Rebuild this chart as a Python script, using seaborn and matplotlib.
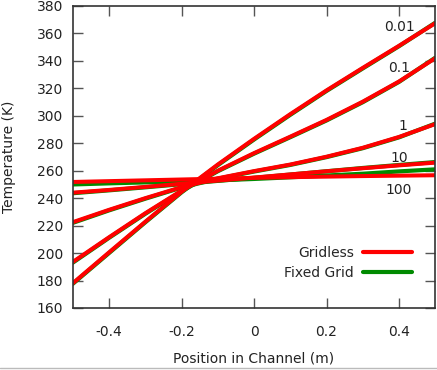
import numpy as np
import pandas as pd
import matplotlib
matplotlib.use("Agg")
import matplotlib.pyplot as plt
import seaborn as sns
from matplotlib.lines import Line2D

# position along the channel (m)
position = [-0.5, -0.4, -0.3, -0.2, -0.1, 0.0, 0.1, 0.2, 0.3, 0.4, 0.5]

# Gridless temperatures (K), one list per case
gridless_001 = [178.0, 200.5, 222.8, 244.6, 264.5, 283.2, 301.2, 318.5, 334.9, 351.0, 367.5]
gridless_01 = [193.5, 211.5, 229.0, 245.5, 260.0, 272.8, 284.8, 297.0, 310.3, 325.0, 342.0]
gridless_1 = [222.5, 231.5, 240.0, 248.0, 254.5, 259.7, 264.5, 270.2, 276.7, 284.6, 294.0]
gridless_10 = [244.0, 246.0, 248.2, 250.5, 252.8, 255.0, 257.3, 259.6, 261.8, 263.9, 265.9]
gridless_100 = [251.8, 252.4, 253.0, 253.6, 254.2, 254.8, 255.3, 255.7, 256.1, 256.4, 256.7]

# Fixed Grid temperatures (K)
fixed_001 = [177.6, 200.0, 222.4, 244.2, 264.0, 282.7, 300.7, 318.1, 334.5, 350.7, 367.8]
fixed_01 = [193.0, 211.1, 228.6, 245.1, 259.6, 272.4, 284.4, 296.6, 309.9, 324.7, 342.3]
fixed_1 = [222.0, 231.1, 239.6, 247.7, 254.2, 259.4, 264.2, 269.9, 276.4, 284.3, 294.3]
fixed_10 = [243.6, 245.7, 247.9, 250.2, 252.6, 254.8, 257.2, 259.6, 262.0, 264.2, 266.3]
fixed_100 = [250.0, 250.8, 251.5, 252.2, 253.0, 254.0, 255.2, 256.5, 257.8, 259.5, 261.0]

cases = ["0.01", "0.1", "1", "10", "100"]
gridless = [gridless_001, gridless_01, gridless_1, gridless_10, gridless_100]
fixed = [fixed_001, fixed_01, fixed_1, fixed_10, fixed_100]

# label spots for each case
label_x = [0.40, 0.40, 0.41, 0.40, 0.40]
label_y = [364.7, 334.8, 292.6, 269.3, 246.0]

rows = []
for c, g, f in zip(cases, gridless, fixed):
    for x, t in zip(position, f):
        rows.append({"Position": x, "Temperature": t, "Method": "Fixed Grid", "Case": c})
    for x, t in zip(position, g):
        rows.append({"Position": x, "Temperature": t, "Method": "Gridless", "Case": c})
df = pd.DataFrame(rows)

sns.set_style("ticks")
plt.rcParams['font.family'] = ['DejaVu Sans']
plt.rcParams['font.size'] = 10

colors = {"Gridless": "#ff0000", "Fixed Grid": "#008a00"}

fig = plt.figure(figsize=(4.37, 3.70), dpi=100)
ax = fig.add_axes([0.1665, 0.1676, 0.8295, 0.8162])

# green first, red drawn on top
for method, lw in [("Fixed Grid", 3.0), ("Gridless", 2.9)]:
    for c in cases:
        sub = df[(df["Method"] == method) & (df["Case"] == c)]
        sns.lineplot(data=sub, x="Position", y="Temperature", color=colors[method],
                     linewidth=lw, estimator=None, sort=False, ax=ax, legend=False)

for c, lx, ly in zip(cases, label_x, label_y):
    ax.text(lx, ly, c, ha="center", va="center", fontsize=10, color="#222222")

ax.set_xlim(-0.5, 0.5)
ax.set_ylim(160, 380)
ax.set_xticks([-0.4, -0.2, 0.0, 0.2, 0.4])
ax.set_xticklabels(["-0.4", "-0.2", "0", "0.2", "0.4"])
ax.set_yticks(np.arange(160, 381, 20))
ax.tick_params(direction="in", length=7, width=1, colors="#555555",
               labelcolor="#222222", top=True, right=True)
ax.tick_params(axis="x", pad=12)
ax.tick_params(axis="y", pad=7)
for s in ax.spines.values():
    s.set_color("#333333")
    s.set_linewidth(1.2)

ax.set_xlabel("Position in Channel (m)", fontsize=10, color="#222222", labelpad=9)
ax.set_ylabel("Temperature (K)", fontsize=10, color="#222222", labelpad=15)

handles = [Line2D([], [], color=colors["Gridless"], linewidth=3),
           Line2D([], [], color=colors["Fixed Grid"], linewidth=3)]
ax.legend(handles, ["Gridless", "Fixed Grid"], loc="center right",
          bbox_to_anchor=(0.936, 0.149), markerfirst=False, frameon=False,
          handlelength=3.5, handletextpad=0.7, labelspacing=0.45,
          borderpad=0, borderaxespad=0, fontsize=10)

fig.add_artist(Line2D([0, 1], [0.005, 0.005], color="#bbbbbb", linewidth=1,
                      transform=fig.transFigure))

fig.savefig("out.png", dpi=100)
